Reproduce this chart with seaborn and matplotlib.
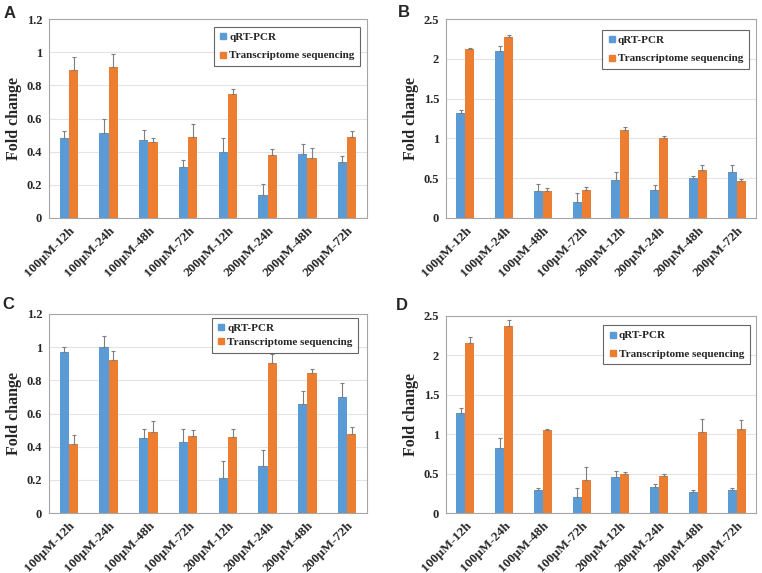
import pandas as pd
import matplotlib
matplotlib.use("Agg")
import matplotlib.pyplot as plt
from matplotlib.lines import Line2D
import seaborn as sns

sns.set_style("white")
plt.rcParams["font.family"] = ["Liberation Serif", "DejaVu Serif"]
plt.rcParams["font.weight"] = "bold"

groups = ["100μM-12h", "100μM-24h", "100μM-48h", "100μM-72h",
          "200μM-12h", "200μM-24h", "200μM-48h", "200μM-72h"]
methods = ["qRT-PCR", "Transcriptome sequencing"]
colors = ["#5B9BD5", "#ED7D31"]

# panel A
a_qpcr = [0.48, 0.515, 0.47, 0.31, 0.40, 0.14, 0.385, 0.34]
a_qpcr_err = [0.045, 0.085, 0.06, 0.04, 0.085, 0.067, 0.063, 0.032]
a_seq = [0.89, 0.91, 0.46, 0.49, 0.75, 0.38, 0.36, 0.49]
a_seq_err = [0.08, 0.08, 0.025, 0.077, 0.03, 0.037, 0.065, 0.035]

# panel B
b_qpcr = [1.32, 2.10, 0.34, 0.196, 0.48, 0.354, 0.508, 0.583]
b_qpcr_err = [0.037, 0.06, 0.09, 0.12, 0.10, 0.063, 0.022, 0.084]
b_seq = [2.12, 2.27, 0.34, 0.35, 1.11, 1.0, 0.604, 0.47]
b_seq_err = [0.01, 0.03, 0.035, 0.04, 0.03, 0.025, 0.056, 0.02]

# panel C
c_qpcr = [0.97, 1.003, 0.45, 0.43, 0.211, 0.285, 0.66, 0.697]
c_qpcr_err = [0.033, 0.064, 0.057, 0.077, 0.10, 0.097, 0.076, 0.089]
c_seq = [0.418, 0.925, 0.488, 0.466, 0.458, 0.905, 0.846, 0.476]
c_seq_err = [0.052, 0.052, 0.067, 0.032, 0.049, 0.055, 0.024, 0.044]

# panel D
d_qpcr = [1.27, 0.827, 0.29, 0.207, 0.456, 0.333, 0.266, 0.295]
d_qpcr_err = [0.06, 0.123, 0.026, 0.113, 0.08, 0.037, 0.024, 0.025]
d_seq = [2.156, 2.375, 1.05, 0.42, 0.49, 0.464, 1.034, 1.063]
d_seq_err = [0.074, 0.075, 0.017, 0.17, 0.03, 0.03, 0.156, 0.117]

ticks_small = [0, 0.2, 0.4, 0.6, 0.8, 1.0, 1.2]
ticks_big = [0, 0.5, 1.0, 1.5, 2.0, 2.5]


def draw(ax, qpcr, qpcr_err, seq, seq_err, ticks, anchor, spacing):
    df = pd.DataFrame({
        "group": groups * 2,
        "method": [methods[0]] * len(groups) + [methods[1]] * len(groups),
        "value": qpcr + seq,
        "err": qpcr_err + seq_err,
    })
    sns.barplot(data=df, x="group", y="value", hue="method", palette=colors,
                width=0.47, saturation=1, errorbar=None, legend=False,
                linewidth=0, ax=ax)
    xs = [p.get_x() + p.get_width() / 2 for p in ax.patches]
    ax.errorbar(xs, df["value"], yerr=[[0] * len(df), df["err"]], fmt="none",
                ecolor="#7f7f7f", elinewidth=0.8, capsize=1.5, capthick=0.8)

    ax.set_xlim(-0.5, len(groups) - 0.5)
    ax.set_ylim(0, ticks[-1])
    ax.set_yticks(ticks)
    ax.set_yticklabels([f"{t:g}" for t in ticks], fontsize=9, fontweight="bold")
    ax.set_xticks(range(len(groups)))
    ax.set_xticklabels(groups, rotation=45, ha="right", rotation_mode="anchor",
                       fontsize=9.5, fontweight="bold")
    ax.tick_params(length=0, pad=5)
    ax.set_xlabel("")
    ax.set_ylabel("Fold change", fontsize=11.5, fontweight="bold", labelpad=3)
    ax.yaxis.grid(True, color="#e3e3e3", lw=0.8)
    ax.set_axisbelow(True)
    for s in ax.spines.values():
        s.set_visible(True)
        s.set_color("#a6a6a6")
        s.set_linewidth(0.8)

    handles = [Line2D([], [], marker="s", ls="", color=c, markersize=4.5) for c in colors]
    leg = ax.legend(handles, methods, loc="upper right", bbox_to_anchor=anchor,
                    borderaxespad=0, frameon=True, fancybox=False,
                    prop={"weight": "bold", "size": 8, "family": "Liberation Serif"},
                    handlelength=0.7, handletextpad=0.2, labelspacing=spacing,
                    borderpad=0.5)
    leg.get_frame().set_edgecolor("#404040")
    leg.get_frame().set_linewidth(0.8)


fig = plt.figure(figsize=(7.62, 5.73), dpi=100)
ax_a = fig.add_axes([49 / 762, 355 / 573, 318 / 762, 199 / 573])
ax_b = fig.add_axes([446 / 762, 355 / 573, 310 / 762, 199 / 573])
ax_c = fig.add_axes([49 / 762, 60 / 573, 318 / 762, 199 / 573])
ax_d = fig.add_axes([446 / 762, 60 / 573, 310 / 762, 197 / 573])

draw(ax_a, a_qpcr, a_qpcr_err, a_seq, a_seq_err, ticks_small, (0.978, 0.96), 0.75)
draw(ax_b, b_qpcr, b_qpcr_err, b_seq, b_seq_err, ticks_big, (0.977, 0.945), 0.75)
draw(ax_c, c_qpcr, c_qpcr_err, c_seq, c_seq_err, ticks_small, (0.972, 0.98), 0.35)
draw(ax_d, d_qpcr, d_qpcr_err, d_seq, d_seq_err, ticks_big, (0.98, 0.954), 0.75)

for x, y, letter in [(4, 6, "A"), (398, 5, "B"), (2, 297, "C"), (396, 298, "D")]:
    fig.text(x / 762, 1 - y / 573, letter, fontsize=12, fontweight="bold",
             family="Liberation Sans", va="top", ha="left")

fig.savefig("out.png", dpi=100)
